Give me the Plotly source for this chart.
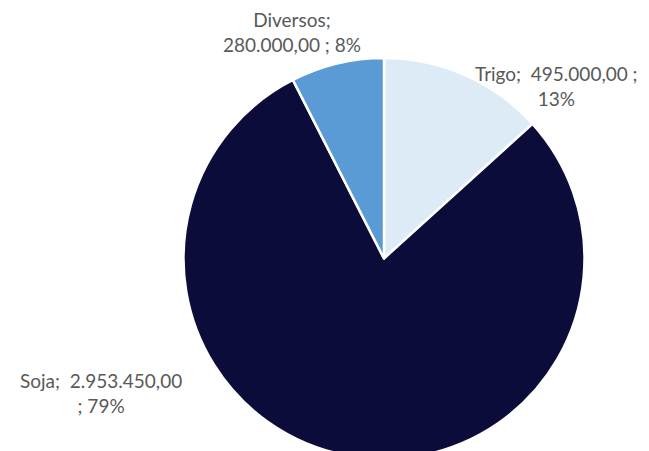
import plotly.graph_objects as go

categories = ["Trigo", "Soja", "Diversos"]
values = [495000.00, 2953450.00, 280000.00]
colors = ["#DDEBF7", "#0C0C3A", "#5B9BD5"]

def fmt_br(v):
    s = f"{v:,.2f}"
    return s.replace(",", "X").replace(".", ",").replace("X", ".")

total = sum(values)
pcts = [round(v / total * 100) for v in values]

W, H = 649, 451
OFF = 8  # default page body margin
fig = go.Figure(go.Pie(
    labels=categories,
    values=values,
    sort=False,
    direction="clockwise",
    rotation=0,
    marker=dict(colors=colors, line=dict(color="white", width=2.5)),
    textinfo="none",
    hoverinfo="label+value+percent",
    showlegend=False,
    domain=dict(x=[(175.5) / W, (576.5) / W], y=[0.0, 1 - (58 - OFF) / H]),
))

label_texts = {
    "Trigo": f"Trigo;  {fmt_br(values[0])} ;<br>{pcts[0]}%",
    "Soja": f"Soja;  {fmt_br(values[1])}<br>; {pcts[1]}%",
    "Diversos": f"Diversos;<br>{fmt_br(values[2])} ; {pcts[2]}%",
}
label_pos = {"Trigo": (556, 86), "Soja": (101, 393), "Diversos": (292, 32)}

annotations = []
for c in categories:
    px, py = label_pos[c]
    annotations.append(dict(
        x=(px - OFF) / W, y=1 - (py - OFF) / H, xref="paper", yref="paper",
        text=label_texts[c], showarrow=False, xanchor="center", yanchor="middle",
        align="center", font=dict(family="Lato, Open Sans, sans-serif", size=19, color="#595959"),
    ))

fig.update_layout(
    width=W, height=H,
    margin=dict(l=0, r=0, t=0, b=0),
    paper_bgcolor="white",
    plot_bgcolor="white",
    annotations=annotations,
)
fig.write_html("out.html")
